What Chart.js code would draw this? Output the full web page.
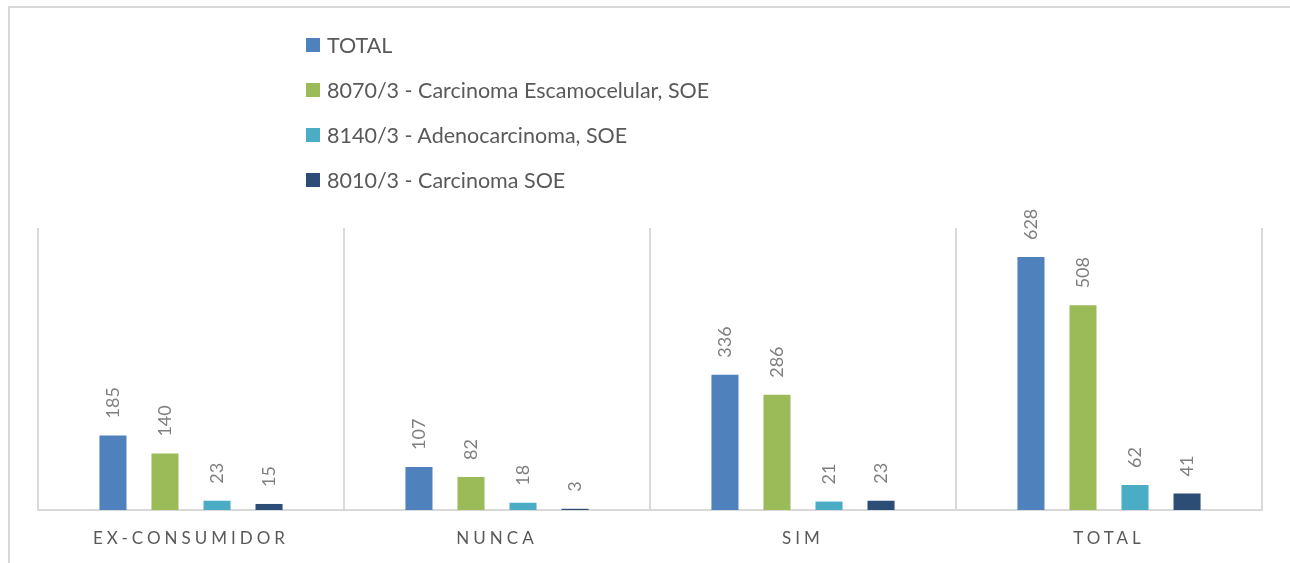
<!DOCTYPE html>
<html>
<head>
<meta charset="utf-8">
<script src="https://cdn.jsdelivr.net/npm/chart.js@4"></script>
<style>
    html, body { margin:0; padding:0; background:#fff; }
    body { width:1290px; height:563px; position:relative; overflow:hidden; font-family: Lato, "Liberation Sans", sans-serif; }
    .frame { position:absolute; left:8px; top:6px; width:1300px; height:600px; border:2px solid #d9d9d9; box-sizing:border-box; }
    .chart-wrap { position:absolute; left:0; top:0; width:1290px; height:563px; }
    #legend { position:absolute; left:306px; top:22px; }
    .lg-item { display:flex; align-items:center; height:45px; font-size:21.5px; color:#595959; white-space:nowrap; }
    .lg-box { width:14px; height:14px; margin-right:7px; }
</style>
</head>
<body>
<div class="frame"></div>
<div class="chart-wrap"><canvas id="chart"></canvas></div>
<div id="legend"></div>
<script>
// Dados (categorias e séries)
const categories = ['EX-CONSUMIDOR', 'NUNCA', 'SIM', 'TOTAL'];
const seriesNames = [
    'TOTAL',
    '8070/3 - Carcinoma Escamocelular, SOE',
    '8140/3 - Adenocarcinoma, SOE',
    '8010/3 - Carcinoma SOE'
];
const totalValues = [185, 107, 336, 628];
const escamocelularValues = [140, 82, 286, 508];
const adenocarcinomaValues = [23, 18, 21, 62];
const carcinomaSoeValues = [15, 3, 23, 41];
const seriesColors = ['#4f81bd', '#9bbb59', '#4bacc6', '#2c4d75'];

// rótulos rodados por cima das barras (sem plugin externo)
const barLabels = {
    id: 'barLabels',
    afterDatasetsDraw(chart) {
        const ctx = chart.ctx;
        ctx.save();
        ctx.letterSpacing = '0px';
        ctx.font = '18px Lato, "Liberation Sans", sans-serif';
        ctx.fillStyle = '#7f7f7f';
        ctx.textAlign = 'left';
        ctx.textBaseline = 'middle';
        chart.data.datasets.forEach((ds, i) => {
            chart.getDatasetMeta(i).data.forEach((bar, j) => {
                ctx.save();
                ctx.translate(bar.x, bar.y - 17);
                ctx.rotate(-Math.PI / 2);
                ctx.fillText(String(ds.data[j]), 0, 0);
                ctx.restore();
            });
        });
        ctx.restore();
    }
};

// espaçamento das letras no eixo X
const spacedTicks = {
    id: 'spacedTicks',
    beforeDraw(chart) { chart.ctx.letterSpacing = '4px'; },
    beforeDatasetsDraw(chart) { chart.ctx.letterSpacing = '0px'; }
};

const chart = new Chart(document.getElementById('chart'), {
    type: 'bar',
    data: {
        labels: categories,
        datasets: [totalValues, escamocelularValues, adenocarcinomaValues, carcinomaSoeValues].map((vals, i) => ({
            label: seriesNames[i],
            data: vals,
            backgroundColor: seriesColors[i],
            borderWidth: 0,
            categoryPercentage: 0.68,
            barPercentage: 0.52
        }))
    },
    options: {
        responsive: true,
        maintainAspectRatio: false,
        animation: false,
        layout: { padding: { top: 228, left: 38, right: 28, bottom: 0 } },
        plugins: { legend: { display: false }, tooltip: { enabled: false } },
        scales: {
            y: { display: false, min: 0, max: 700 },
            x: {
                grid: { color: '#d9d9d9', lineWidth: 2, drawTicks: false, offset: true },
                border: { color: '#d9d9d9', width: 2 },
                ticks: { color: '#595959', font: { size: 17, family: 'Lato, "Liberation Sans", sans-serif' }, padding: 18 },
                afterFit: s => { s.height = 53; }
            }
        }
    },
    plugins: [barLabels, spacedTicks]
});

// legenda vertical em HTML
const items = chart.options.plugins.legend.labels.generateLabels(chart);
document.getElementById('legend').innerHTML = items.map(it => `
    <div class="lg-item"><span class="lg-box" style="background:${it.fillStyle}"></span>${it.text}</div>
`).join('');
</script>
</body>
</html>
